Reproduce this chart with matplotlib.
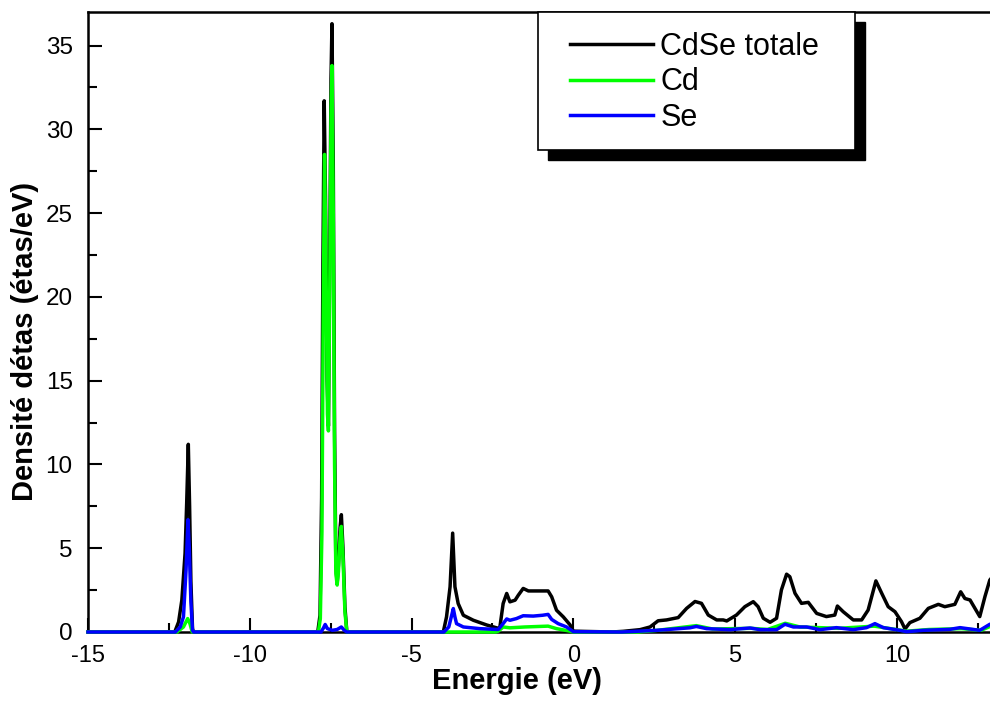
import matplotlib
matplotlib.use("Agg")
import matplotlib.pyplot as plt
from matplotlib.patches import Rectangle
from matplotlib.ticker import MultipleLocator

plt.rcParams['font.family'] = ['Liberation Sans', 'DejaVu Sans']
plt.rcParams['axes.unicode_minus'] = False

# densite d'etats (energie en eV, etats/eV)
e_tot = [-15, -12.32, -12.2, -12.1, -12.0, -11.95, -11.9, -11.86, -11.82, -11.77, -11.74,
         -7.9, -7.83, -7.78, -7.74, -7.70, -7.66, -7.61, -7.57, -7.53, -7.49, -7.46,
         -7.42, -7.38, -7.34, -7.30, -7.26, -7.21, -7.17, -7.12, -7.06, -7.0,
         -4.02, -3.92, -3.81, -3.73, -3.66, -3.56, -3.40, -3.09, -2.68, -2.32, -2.27,
         -2.17, -2.06, -1.96, -1.80, -1.70, -1.55, -1.39, -1.03, -0.78, -0.67, -0.52,
         -0.31, -0.10, 0.0, 1.2, 1.54, 2.06, 2.37, 2.62, 2.88, 3.24, 3.50, 3.76, 3.96,
         4.17, 4.43, 4.63, 4.74, 5.04, 5.30, 5.56, 5.71, 5.87, 6.08, 6.28, 6.43, 6.59,
         6.69, 6.85, 7.05, 7.26, 7.52, 7.82, 8.08, 8.16, 8.34, 8.65, 8.91, 9.11, 9.35,
         9.53, 9.73, 9.94, 10.14, 10.25, 10.40, 10.71, 10.97, 11.28, 11.48, 11.79,
         11.97, 12.10, 12.26, 12.56, 12.72, 12.87, 13.0]
dos_tot = [0, 0, 0.6, 1.9, 4.7, 7.7, 11.2, 7.5, 3.0, 0.2, 0,
           0, 1.0, 8.0, 22.0, 31.7, 26.0, 15.0, 12.3, 22.0, 33.0, 36.3,
           28.0, 12.0, 4.0, 2.9, 4.0, 6.2, 7.0, 5.0, 1.5, 0,
           0, 0.9, 2.7, 5.9, 2.7, 1.7, 1.0, 0.7, 0.42, 0.22, 0.3,
           1.7, 2.3, 1.8, 1.9, 2.2, 2.6, 2.45, 2.45, 2.45, 2.1, 1.3,
           0.9, 0.42, 0.05, 0, 0.04, 0.14, 0.30, 0.67, 0.72, 0.86, 1.41, 1.82, 1.71,
           1.01, 0.72, 0.72, 0.66, 1.01, 1.51, 1.81, 1.51, 0.82, 0.58, 0.82, 2.51, 3.45,
           3.30, 2.31, 1.71, 1.77, 1.11, 0.92, 1.01, 1.55, 1.21, 0.72, 0.72, 1.31, 3.05,
           2.31, 1.51, 1.21, 0.62, 0.18, 0.56, 0.82, 1.41, 1.65, 1.51, 1.65,
           2.40, 2.00, 1.91, 0.92, 2.11, 3.10, 3.4]

e_cd = [-15, -12.25, -12.05, -11.92, -11.85, -11.78,
        -7.88, -7.82, -7.77, -7.73, -7.69, -7.65, -7.60, -7.57, -7.53, -7.49, -7.46,
        -7.42, -7.38, -7.34, -7.30, -7.26, -7.21, -7.17, -7.12, -7.06, -7.0,
        -2.4, -2.32, -2.17, -1.96, -1.5, -0.78, -0.52, -0.1, 0.0,
        2.0, 2.6, 3.8, 4.3, 5.5, 6.0, 6.55, 7.0, 8.2, 9.3, 10.3, 11.0, 12.0, 12.6,
        12.9, 13.0]
dos_cd = [0, 0, 0.3, 0.8, 0.5, 0,
          0, 0.8, 6.0, 19.0, 28.5, 23.0, 13.0, 12.0, 20.0, 31.0, 33.8,
          25.0, 10.0, 3.5, 2.8, 3.6, 5.6, 6.3, 4.5, 1.2, 0,
          0, 0.05, 0.3, 0.25, 0.3, 0.35, 0.2, 0.05, 0,
          0, 0.1, 0.38, 0.18, 0.22, 0.15, 0.52, 0.3, 0.22, 0.35, 0.05, 0.15, 0.2, 0.1,
          0.35, 0.4]

e_se = [-15, -12.3, -12.15, -12.05, -11.97, -11.91, -11.87, -11.82, -11.77, -11.74,
        -7.8, -7.72, -7.67, -7.6, -7.45, -7.3, -7.17, -7.08, -7.0,
        -4.0, -3.85, -3.76, -3.71, -3.66, -3.61, -3.40, -2.89, -2.32, -2.17, -2.06,
        -1.96, -1.76, -1.55, -1.24, -0.95, -0.78, -0.67, -0.47, -0.21, 0.0,
        1.5, 2.57, 3.60, 3.80, 4.12, 4.84, 5.46, 5.77, 6.28, 6.54, 6.80, 7.21, 7.62,
        8.13, 8.65, 9.06, 9.32, 9.58, 10.09, 10.30, 10.81, 11.64, 11.95, 12.56, 12.87,
        13.0]
dos_se = [0, 0, 0.3, 0.9, 3.7, 6.7, 5.0, 1.8, 0.1, 0,
          0, 0.25, 0.45, 0.2, 0.1, 0.15, 0.3, 0.1, 0,
          0, 0.3, 1.0, 1.4, 0.9, 0.5, 0.3, 0.2, 0.15, 0.5, 0.78,
          0.7, 0.8, 0.97, 0.95, 1.0, 1.05, 0.75, 0.5, 0.3, 0.02,
          0, 0.1, 0.25, 0.33, 0.2, 0.14, 0.24, 0.14, 0.14, 0.46, 0.30, 0.3, 0.14,
          0.26, 0.14, 0.26, 0.50, 0.26, 0.1, 0.02, 0.1, 0.16, 0.26, 0.1, 0.46,
          0.5]

labels = ['CdSe totale', 'Cd', 'Se']

fig = plt.figure(figsize=(9.9, 7.06), dpi=100)
ax = fig.add_axes([88/990, 74/706, 906/990, 620/706])

l1, = ax.plot(e_tot, dos_tot, color='black', lw=2.5, clip_on=False, zorder=3)
l2, = ax.plot(e_cd, dos_cd, color='#00ff00', lw=2.5, clip_on=False, zorder=3)
l3, = ax.plot(e_se, dos_se, color='#0000ff', lw=2.5, clip_on=False, zorder=3)

ax.set_xlim(-15, 13)
ax.set_ylim(0, 37)
ax.xaxis.set_major_locator(MultipleLocator(5))
ax.xaxis.set_minor_locator(MultipleLocator(2.5))
ax.yaxis.set_major_locator(MultipleLocator(5))
ax.yaxis.set_minor_locator(MultipleLocator(2.5))
ax.tick_params(which='both', direction='in', width=1.5, top=False, right=False)
ax.tick_params(which='major', length=10)
ax.tick_params(which='minor', length=6.5)
ax.tick_params(axis='x', which='major', labelsize=17, pad=9)
ax.tick_params(axis='y', which='major', labelsize=17.5, pad=11)
for s in ax.spines.values():
    s.set_linewidth(1.8)

ax.set_xlabel('Energie (eV)', fontsize=21, fontweight='bold')
ax.xaxis.set_label_coords((517 - 88) / 906, -0.057)
ax.set_ylabel('Densité détas (étas/eV)', fontsize=21, fontweight='bold')
ax.yaxis.set_label_coords((39 - 88) / 906, 0.468)

# boite de legende avec ombre portee
fig.add_artist(Rectangle((548/990, (706-160)/706), 317/990, 138/706,
                         transform=fig.transFigure, facecolor='black',
                         edgecolor='black', zorder=1))
fig.add_artist(Rectangle((538/990, (706-150)/706), 317/990, 138/706,
                         transform=fig.transFigure, facecolor='white',
                         edgecolor='black', lw=1.2, zorder=2))
leg = fig.legend([l1, l2, l3], labels, loc='upper left', frameon=False,
                 bbox_to_anchor=(570/990, (706-32)/706), bbox_transform=fig.transFigure,
                 borderpad=0, borderaxespad=0, fontsize=22, handlelength=2.7,
                 handletextpad=0.26, labelspacing=0.18)
leg.set_zorder(3)

fig.savefig('out.png', dpi=100)
